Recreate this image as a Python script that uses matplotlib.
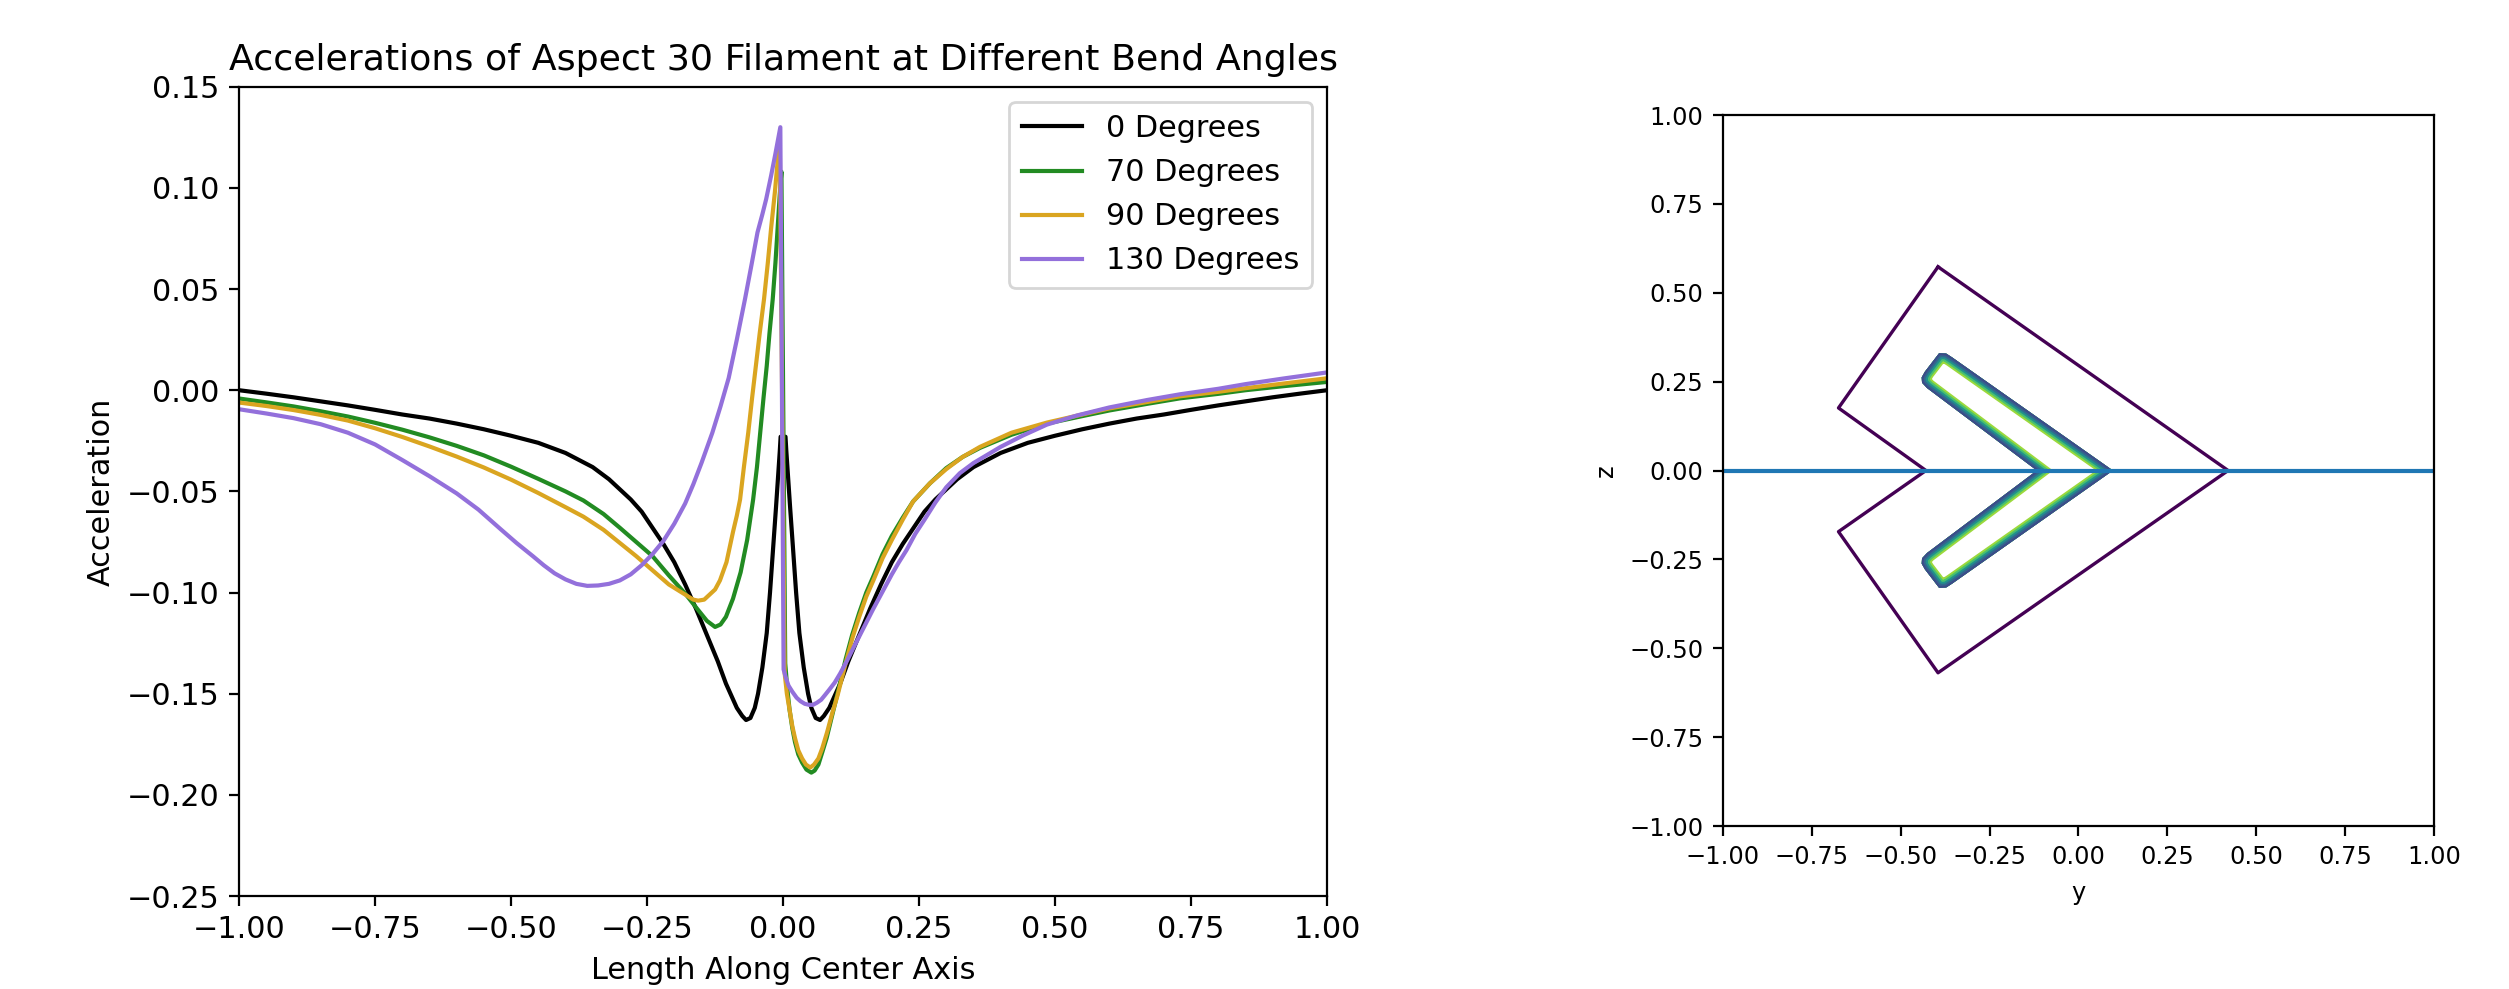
import numpy as np
import matplotlib
matplotlib.use("Agg")
import matplotlib.pyplot as plt
from matplotlib.patches import Polygon

# ============================================================
# 数据
# ============================================================

# 0 degrees (straight filament, black)
x_0 = [-1.0, -0.95, -0.9, -0.85, -0.8, -0.75, -0.7, -0.65, -0.6, -0.55, -0.5, -0.45,
       -0.4, -0.35, -0.32, -0.3, -0.28, -0.26, -0.24, -0.22, -0.2, -0.18, -0.16,
       -0.14, -0.12, -0.105, -0.095, -0.085, -0.075, -0.068, -0.06, -0.052, -0.046,
       -0.038, -0.03, -0.024, -0.018, -0.013, -0.009, -0.006, -0.0045,
       0.0045, 0.006, 0.009, 0.013, 0.018, 0.024, 0.03, 0.038, 0.046, 0.052, 0.06,
       0.068, 0.075, 0.085, 0.095, 0.105, 0.12, 0.14, 0.16, 0.18, 0.2, 0.22, 0.24,
       0.26, 0.28, 0.3, 0.32, 0.35, 0.4, 0.45, 0.5, 0.55, 0.6, 0.65, 0.7, 0.75,
       0.8, 0.85, 0.9, 0.95, 1.0]
a_0 = [0.000, -0.0017, -0.0035, -0.0055, -0.0075, -0.0097, -0.012, -0.014, -0.0165,
       -0.0193, -0.0225, -0.026, -0.031, -0.038, -0.044, -0.049, -0.054, -0.060,
       -0.068, -0.076, -0.085, -0.096, -0.108, -0.121, -0.134, -0.145, -0.151,
       -0.157, -0.161, -0.163, -0.162, -0.157, -0.150, -0.137, -0.120, -0.100,
       -0.077, -0.058, -0.042, -0.030, -0.023,
       -0.023, -0.030, -0.042, -0.058, -0.077, -0.100, -0.120, -0.137, -0.150,
       -0.157, -0.162, -0.163, -0.161, -0.157, -0.151, -0.145, -0.134, -0.121,
       -0.108, -0.096, -0.085, -0.076, -0.068, -0.060, -0.054, -0.049, -0.044,
       -0.038, -0.031, -0.026, -0.0225, -0.0193, -0.0165, -0.014, -0.012, -0.0097,
       -0.0075, -0.0055, -0.0035, -0.0017, 0.000]

# 70 degrees (green)
x_70 = [-1.0, -0.95, -0.9, -0.85, -0.8, -0.75, -0.7, -0.65, -0.6, -0.55, -0.5, -0.45,
        -0.4, -0.367, -0.33, -0.3, -0.27, -0.24, -0.21, -0.18, -0.158, -0.14, -0.125,
        -0.115, -0.105, -0.092, -0.078, -0.066, -0.055, -0.048, -0.042, -0.036,
        -0.03, -0.025, -0.019, -0.014, -0.01, -0.006, -0.003,
        0.004, 0.008, 0.012, 0.017, 0.022, 0.028, 0.035, 0.043, 0.052, 0.058, 0.065,
        0.072, 0.08, 0.09, 0.1, 0.115, 0.127, 0.14, 0.153, 0.166, 0.183, 0.2, 0.22,
        0.239, 0.27, 0.3, 0.33, 0.362, 0.42, 0.485, 0.55, 0.6, 0.67, 0.73, 0.8,
        0.85, 0.92, 1.0]
a_70 = [-0.0041, -0.006, -0.0080, -0.0104, -0.0130, -0.0161, -0.0195, -0.0233,
        -0.0275, -0.0322, -0.0378, -0.0438, -0.0500, -0.0545, -0.0612, -0.068,
        -0.075, -0.082, -0.0915, -0.1005, -0.108, -0.114, -0.117, -0.1158, -0.112,
        -0.103, -0.090, -0.074, -0.054, -0.038, -0.021, -0.004, 0.012, 0.028, 0.045,
        0.063, 0.080, 0.097, 0.108,
        -0.135, -0.148, -0.158, -0.167, -0.174, -0.180, -0.184, -0.1875, -0.189,
        -0.188, -0.185, -0.179, -0.172, -0.161, -0.150, -0.133, -0.121, -0.110,
        -0.100, -0.092, -0.081, -0.072, -0.063, -0.055, -0.046, -0.0385, -0.033,
        -0.0285, -0.022, -0.0165, -0.0128, -0.010, -0.0067, -0.004, -0.0018, 0.000,
        0.0020, 0.0041]

# 90 degrees (orange)
x_90 = [-1.0, -0.95, -0.9, -0.85, -0.8, -0.75, -0.7, -0.65, -0.6, -0.55, -0.5, -0.45,
        -0.4, -0.367, -0.33, -0.3, -0.27, -0.24, -0.21, -0.18, -0.165, -0.156, -0.145,
        -0.135, -0.125, -0.116, -0.104, -0.092, -0.085, -0.079, -0.072, -0.064,
        -0.057, -0.05, -0.043, -0.035, -0.028, -0.022, -0.015, -0.01, -0.006,
        0.003, 0.007, 0.012, 0.017, 0.022, 0.028, 0.035, 0.042, 0.05, 0.057, 0.065,
        0.072, 0.081, 0.09, 0.1, 0.117, 0.128, 0.14, 0.153, 0.166, 0.183, 0.2, 0.22,
        0.239, 0.27, 0.3, 0.33, 0.362, 0.42, 0.485, 0.55, 0.6, 0.67, 0.73, 0.8,
        0.85, 0.92, 1.0]
a_90 = [-0.0061, -0.0078, -0.0098, -0.0122, -0.015, -0.0188, -0.0231, -0.0278,
        -0.0328, -0.0382, -0.0442, -0.0508, -0.0578, -0.0625, -0.069, -0.0755,
        -0.082, -0.089, -0.096, -0.101, -0.1035, -0.104, -0.1035, -0.101, -0.0985,
        -0.094, -0.085, -0.070, -0.062, -0.054, -0.038, -0.021, -0.004, 0.012,
        0.028, 0.045, 0.063, 0.080, 0.098, 0.113, 0.122,
        -0.140, -0.150, -0.158, -0.166, -0.172, -0.178, -0.182, -0.185, -0.1865,
        -0.185, -0.182, -0.177, -0.169, -0.160, -0.151, -0.133, -0.122, -0.112,
        -0.102, -0.094, -0.083, -0.074, -0.064, -0.055, -0.046, -0.039, -0.033,
        -0.028, -0.021, -0.016, -0.012, -0.009, -0.0058, -0.003, -0.0008, 0.001,
        0.0033, 0.0059]

# 130 degrees (purple)
x_130 = [-1.0, -0.95, -0.9, -0.85, -0.8, -0.75, -0.7, -0.65, -0.6, -0.56, -0.52,
         -0.49, -0.46, -0.44, -0.42, -0.4, -0.38, -0.36, -0.34, -0.32, -0.3, -0.28,
         -0.26, -0.24, -0.22, -0.2, -0.18, -0.165, -0.15, -0.13, -0.115, -0.1, -0.085,
         -0.07, -0.058, -0.047, -0.038, -0.031, -0.022, -0.014, -0.005,
         0.001, 0.005, 0.01, 0.017, 0.025, 0.032, 0.04, 0.048, 0.055, 0.062, 0.07,
         0.077, 0.085, 0.095, 0.105, 0.117, 0.13, 0.148, 0.166, 0.183, 0.2, 0.213,
         0.227, 0.243, 0.26, 0.28, 0.3, 0.325, 0.35, 0.375, 0.4, 0.44, 0.485, 0.54,
         0.6, 0.67, 0.73, 0.8, 0.85, 0.92, 1.0]
a_130 = [-0.0094, -0.0115, -0.0138, -0.0168, -0.021, -0.0268, -0.0345, -0.0425,
         -0.051, -0.059, -0.0685, -0.0755, -0.082, -0.0865, -0.0905, -0.0935,
         -0.0957, -0.0967, -0.0965, -0.0957, -0.094, -0.091, -0.0865, -0.081,
         -0.0745, -0.066, -0.056, -0.0465, -0.036, -0.021, -0.008, 0.006, 0.025,
         0.045, 0.062, 0.078, 0.087, 0.0945, 0.106, 0.117, 0.130,
         -0.138, -0.142, -0.146, -0.149, -0.152, -0.1537, -0.155, -0.1555, -0.1555,
         -0.1545, -0.153, -0.1507, -0.148, -0.1445, -0.140, -0.134, -0.127, -0.1175,
         -0.108, -0.0995, -0.091, -0.085, -0.079, -0.071, -0.064, -0.0555, -0.048,
         -0.041, -0.036, -0.032, -0.028, -0.0225, -0.017, -0.0125, -0.0085, -0.0048,
         -0.002, 0.0007, 0.0030, 0.0058, 0.0088]

series = [
    (x_0, a_0, "0 Degrees", "black"),
    (x_70, a_70, "70 Degrees", "forestgreen"),
    (x_90, a_90, "90 Degrees", "goldenrod"),
    (x_130, a_130, "130 Degrees", "mediumpurple"),
]

# right panel: outer contour and bent filament outline (y, z)
outer_y = [-0.395, 0.421, -0.395, -0.675, -0.429, -0.675, -0.395]
outer_z = [0.573, 0.0, -0.569, -0.172, 0.0, 0.176, 0.573]

chev_y = [0.097, -0.355, -0.372, -0.392, -0.432, -0.441, -0.440, -0.426, -0.117,
          -0.426, -0.440, -0.441, -0.432, -0.392, -0.372, -0.355, 0.097]
chev_z = [0.0, 0.318, 0.329, 0.330, 0.278, 0.262, 0.247, 0.232, 0.0,
          -0.232, -0.247, -0.262, -0.278, -0.330, -0.329, -0.318, 0.0]

axis_y = [-1.0, 1.0]
axis_z = [0.0, 0.0]

# contour levels, drawn light (inner) -> dark (outer)
band_colors = ["#9bd93c", "#4ac16d", "#21918c", "#31688e", "#3e4a89"]
band_widths = [7.0, 5.6, 4.2, 2.8, 1.4]

# ============================================================
# 画图
# ============================================================

fig = plt.figure(figsize=(12.545, 4.945), dpi=200)

fs = 10.9
ax1 = fig.add_axes([0.0953, 0.094, 0.4336, 0.8183])
for xs, ys, lab, col in series:
    ax1.plot(xs, ys, color=col, lw=1.5, label=lab)
ax1.set_xlim(-1, 1)
ax1.set_ylim(-0.25, 0.15)
ax1.set_xticks(np.arange(-1, 1.01, 0.25))
ax1.set_yticks(np.arange(-0.25, 0.151, 0.05))
ax1.tick_params(labelsize=fs)
ax1.set_title("Accelerations of Aspect 30 Filament at Different Bend Angles", fontsize=13.1)
ax1.set_xlabel("Length Along Center Axis", fontsize=fs)
ax1.set_ylabel("Acceleration", fontsize=fs)
ax1.legend(loc="upper right", fontsize=fs)

ax2 = fig.add_axes([0.6867, 0.1648, 0.2834, 0.7189])
ax2.plot(outer_y, outer_z, color="#440154", lw=1.2)

chev = Polygon(np.column_stack([chev_y, chev_z]), closed=True,
               facecolor="none", edgecolor="none", transform=ax2.transData)
ax2.add_patch(chev)
for col, w in zip(band_colors, band_widths):
    ln, = ax2.plot(chev_y, chev_z, color=col, lw=w, solid_joinstyle="miter")
    ln.set_clip_path(chev)

ax2.plot(axis_y, axis_z, color="#1f77b4", lw=1.5)
ax2.set_xlim(-1, 1)
ax2.set_ylim(-1, 1)
ax2.set_aspect("equal")
ax2.set_xticks(np.arange(-1, 1.01, 0.25))
ax2.set_yticks(np.arange(-1, 1.01, 0.25))
ax2.tick_params(labelsize=8.7)
ax2.set_xlabel("y", fontsize=8.7)
ax2.set_ylabel("z", fontsize=8.7)

fig.savefig("out.png", dpi=200)
